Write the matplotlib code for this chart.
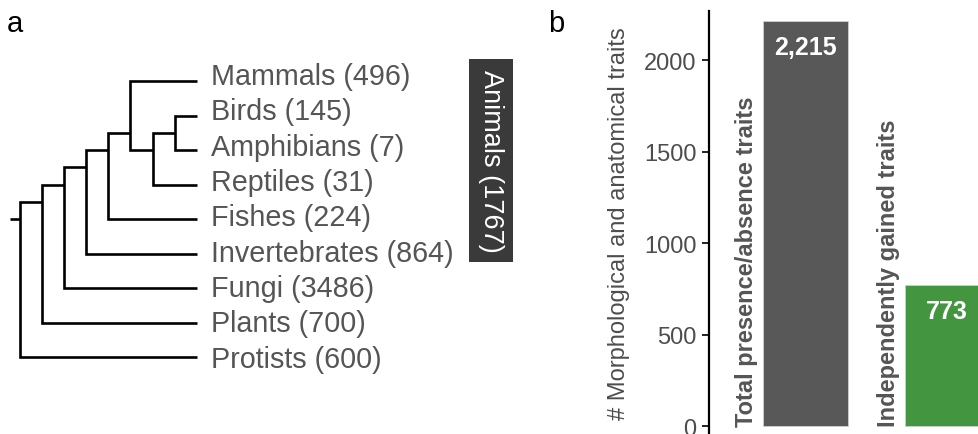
import numpy as np
import matplotlib
matplotlib.use("Agg")
import matplotlib.pyplot as plt
from matplotlib.patches import Rectangle

plt.rcParams['font.family'] = ['Liberation Sans', 'DejaVu Sans']

# --- Daten ---
TIPS = ['Mammals', 'Birds', 'Amphibians', 'Reptiles', 'Fishes',
        'Invertebrates', 'Fungi', 'Plants', 'Protists']
TIP_COUNTS = [496, 145, 7, 31, 224, 864, 3486, 700, 600]
# topology as nested tuples of tip indices
TREE = ((((((0, ((1, 2), 3)), 4), 5), 6), 7), 8)
CLADE_NAME = 'Animals'
CLADE_TIPS = [0, 1, 2, 3, 4, 5]

BAR_LABELS = ['Total presence/absence traits', 'Independently gained traits']
BAR_VALUES = [2215, 773]
BAR_COLORS = ['#585858', '#43953f']

TEXT_GRAY = '#555555'
W, H = 979, 435


def height(node):
    if isinstance(node, int):
        return 0
    return 1 + max(height(c) for c in node)


def tips_of(node):
    if isinstance(node, int):
        return [node]
    out = []
    for c in node:
        out += tips_of(c)
    return out


def draw_tree(ax, node, depth_max):
    """returns (x, y) of node and draws branches below it"""
    if isinstance(node, int):
        return depth_max, float(node)
    x = depth_max - height(node)
    y = np.mean(tips_of(node))
    kids = [draw_tree(ax, c, depth_max) for c in node]
    (x1, y1), (x2, y2) = kids[0], kids[-1]
    ax.plot([x1, x, x, x2], [y1, y1, y2, y2], color='black', lw=1.9,
            solid_joinstyle='miter', solid_capstyle='butt')
    return x, y


fig = plt.figure(figsize=(W / 100, H / 100), dpi=100)

# --- Panel a: Kladogramm ---
ax_t = fig.add_axes([0, 0, 540 / W, 1])
ax_t.axis('off')
px_x, px_y = 22.09, 34.5          # pixel per Ebene / pro Blatt
x0, y0 = 20, 82                   # Pixel von Wurzel / erstem Blatt
ax_t.set_xlim(-x0 / px_x, (540 - x0) / px_x)
ax_t.set_ylim((H - y0) / px_y, -y0 / px_y)

depth = height(TREE)
rx, ry = draw_tree(ax_t, TREE, depth)
ax_t.plot([rx - 0.45, rx], [ry, ry], color='black', lw=1.9, solid_capstyle='butt')

for i, (name, n) in enumerate(zip(TIPS, TIP_COUNTS)):
    # labels sit a bit wider apart than the tips
    ty = i * 1.025 - 0.15
    ax_t.text(depth + 0.66, ty, f'{name} ({n})', fontsize=20.7, color=TEXT_GRAY,
              ha='left', va='center')

c_lo, c_hi = min(CLADE_TIPS) - 0.64, max(CLADE_TIPS) + 0.25
ax_t.add_patch(Rectangle((20.33, c_lo), 2.0, c_hi - c_lo, facecolor='#3a3a3a',
                         edgecolor='none'))
ax_t.text(21.33, (c_lo + c_hi) / 2,
          f'{CLADE_NAME} ({sum(TIP_COUNTS[i] for i in CLADE_TIPS)})',
          rotation=270, color='white', fontsize=19.5, ha='center', va='center')

# --- Panel b: Balken ---
ax_b = fig.add_axes([709 / W, 0, 270 / W, (H - 11.7) / H])
x = np.arange(len(BAR_VALUES))
bw = 0.6
ax_b.bar(x, BAR_VALUES, width=bw, color=BAR_COLORS, edgecolor='#cfcfcf', linewidth=0.6)
ax_b.set_xlim(-0.682, 1.226)
ax_b.set_ylim(-43.7, 2270)

for xi, v, lab in zip(x, BAR_VALUES, BAR_LABELS):
    ax_b.text(xi - bw / 2 - 0.035, 0, lab, rotation=90, ha='right', va='bottom',
              fontsize=17, fontweight='bold', color=TEXT_GRAY)
    ax_b.annotate(f'{v:,}', xy=(xi, v), xytext=(0, -19), textcoords='offset points',
                  ha='center', va='center', fontsize=18, fontweight='bold', color='white')

for s in ['top', 'right', 'bottom']:
    ax_b.spines[s].set_visible(False)
ax_b.spines['left'].set_linewidth(1.6)
ax_b.set_xticks([])
ax_b.set_yticks([0, 500, 1000, 1500, 2000])
ax_b.tick_params(axis='y', direction='out', length=5, width=1.4, color='#222222',
                 labelcolor='#4d4d4d', labelsize=17, pad=4)
ax_b.set_ylabel('# Morphological and anatomical traits', fontsize=17,
                color='#4d4d4d', labelpad=10)

fig.text(7 / W, 1 - 32 / H, 'a', fontsize=21, ha='left', va='baseline')
fig.text(548 / W, 1 - 32 / H, 'b', fontsize=21, ha='left', va='baseline')

fig.savefig('out.png', dpi=100)
